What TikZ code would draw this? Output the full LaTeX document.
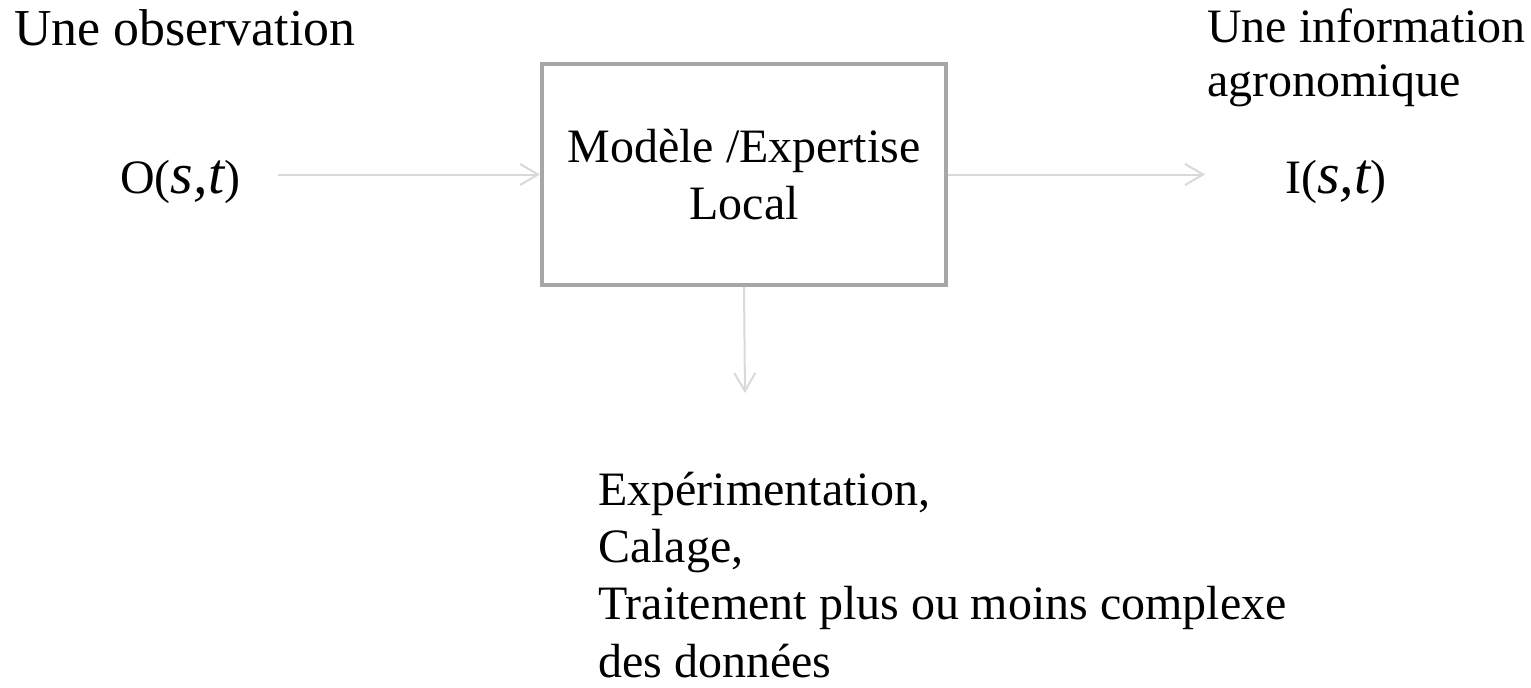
\documentclass[tikz,border=0pt]{standalone}
\usepackage{fontspec}
\setmainfont{Liberation Serif}
\usetikzlibrary{arrows.meta, positioning}
\definecolor{arrowGray}{RGB}{217,217,217}
\definecolor{boxGray}{RGB}{166,166,166}
\newcommand{\stvar}{{\fontsize{33pt}{33pt}\selectfont\itshape s,t}}

\begin{document}
\begin{tikzpicture}[x=0.02cm, y=-0.02cm,
  lbl/.style={inner sep=0, font=\fontsize{27.3pt}{32.6pt}\selectfont},
  arr/.style={draw=arrowGray, line width=0.04cm,
              -{Straight Barb[length=0.36cm, width=0.42cm]}},
  bx/.style={lbl, draw=boxGray, line width=0.08cm, minimum width=8.08cm,
             minimum height=4.42cm, align=center}]
  \useasboundingbox (0,0) rectangle (1531,687);

  % central model box
  \node[bx] (box) at (744,174.5) {Modèle /Expertise\\Local};

  % input side
  \node[lbl, anchor=base west, font=\fontsize{29.5pt}{35pt}\selectfont]
    (obsTitle) at (14,45) {Une observation};
  \node[lbl, anchor=base west] (obs) at (120,193) {O(\stvar)};

  % output side (base = last line)
  \node[lbl, anchor=base west, align=left,
        font=\fontsize{27.3pt}{30.7pt}\selectfont] (infTitle) at (1207,96)
    {Une information\\agronomique};
  \node[lbl, anchor=base west] (inf) at (1285,193) {I(\stvar)};

  % bottom text (base = last line)
  \node[lbl, anchor=base west, align=left] (calib) at (598,677)
    {Expérimentation,\\Calage,\\Traitement plus ou moins complexe\\des données};
  \coordinate (down) at (745,393);

  \draw[arr] ([xshift=0.76cm]obs.east |- box.west) -- (box.west);
  \draw[arr] (box.east) -- ([xshift=-1.6cm]inf.west |- box.east);
  \draw[arr] (box.south) -- (down);

\end{tikzpicture}
\end{document}
